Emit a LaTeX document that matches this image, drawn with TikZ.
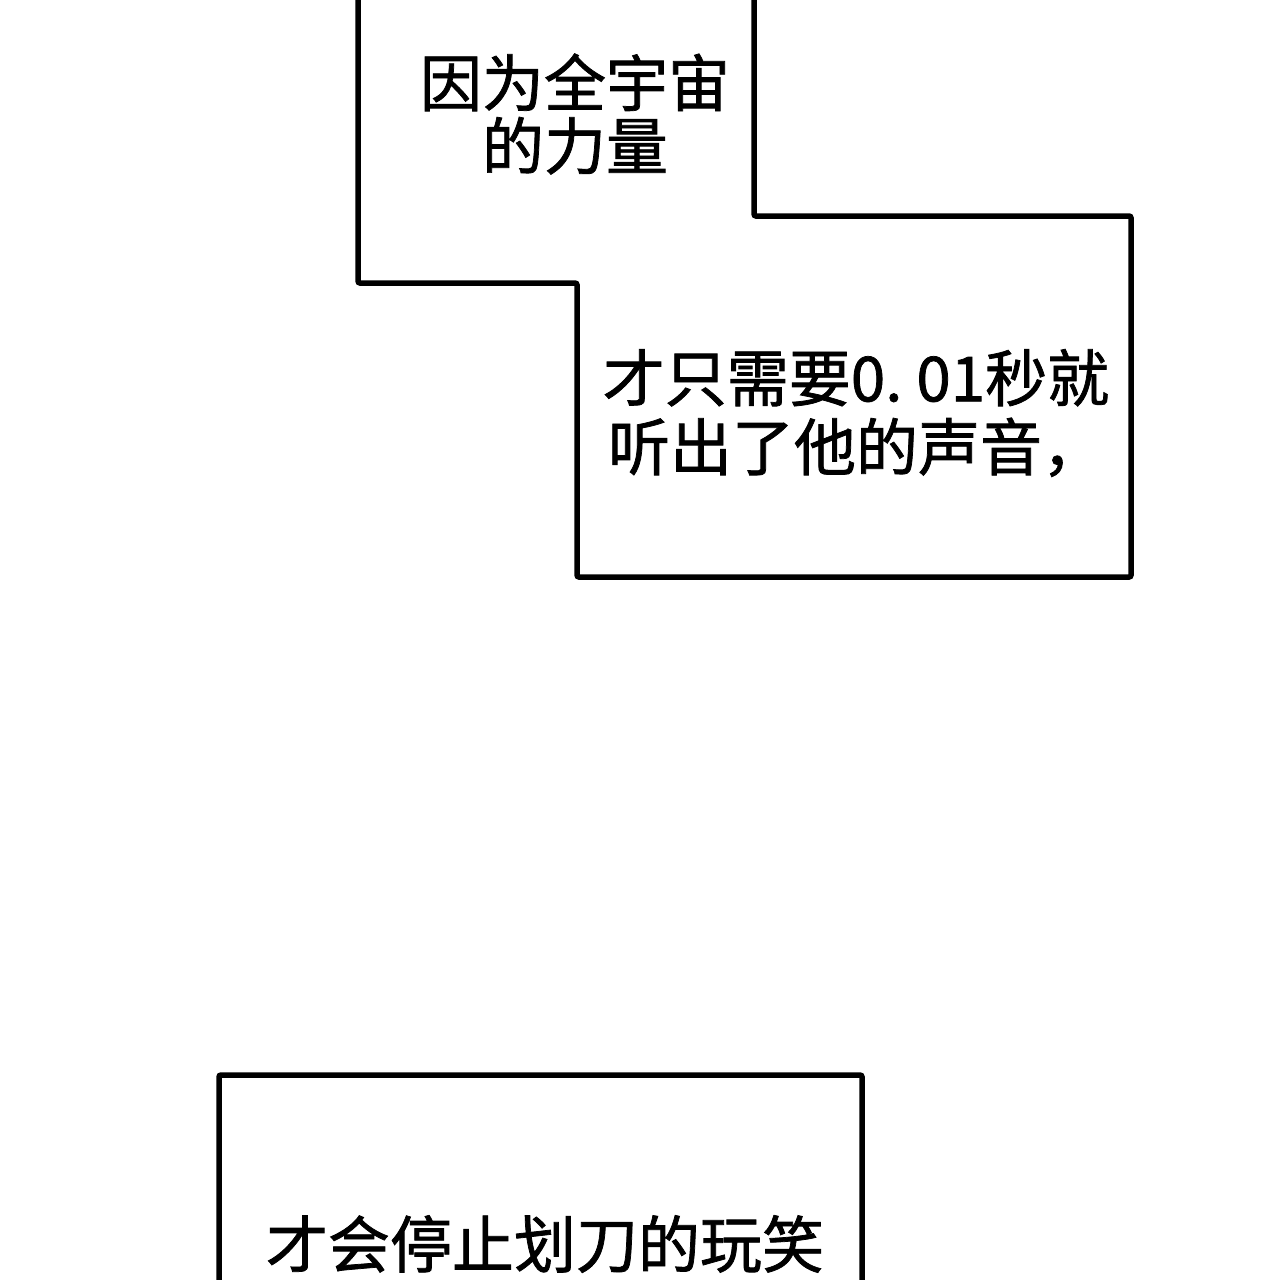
\documentclass[tikz,border=0pt]{standalone}
\usepackage{fontspec}
\newfontfamily\cjk[FakeBold=1.2]{Noto Sans CJK SC}
\begin{document}
\begin{tikzpicture}[x=1pt,y=-1pt,
  frame/.style={draw=black,line width=5.5pt,rounded corners=2pt,fill=white},
  caption/.style={font=\cjk\fontsize{62}{63}\selectfont,align=center,inner sep=0pt,text=black}]
\useasboundingbox (0,0) rectangle (1280,1280);
\fill[white] (0,0) rectangle (1280,1280);
\clip (0,0) rectangle (1280,1280);
\draw[frame] (358,-30) -- (358,283) -- (577,283) -- (577,577) -- (1131,577) -- (1131,216) -- (754,216) -- (754,-30);
\draw[frame] (219,1320) -- (219,1075) -- (862,1075) -- (862,1320);
\node[caption] (t1) at (575,114) {因为全宇宙\\的力量};
\node[caption,font=\cjk\fontsize{62}{69}\selectfont] (t2) at (856,413) {才只需要0.~01秒就\\听出了他的声音，};
\node[caption] (t3) at (545,1244) {才会停止划刀的玩笑};
\end{tikzpicture}
\end{document}
